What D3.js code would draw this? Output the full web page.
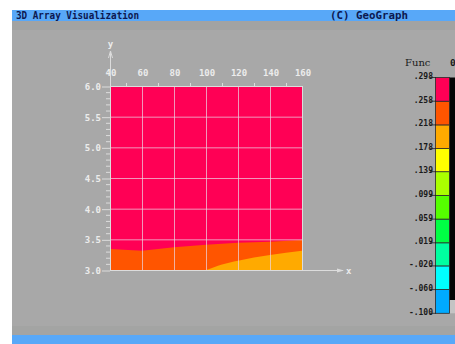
<!DOCTYPE html>
<html>
<head>
<meta charset="utf-8">
<script src="https://cdn.jsdelivr.net/npm/d3@7/dist/d3.min.js"></script>
<style>
  html, body { margin: 0; padding: 0; background: #ffffff; }
  svg { display: block; }
  text { font-family: "DejaVu Sans Mono", "Liberation Mono", monospace; font-weight: bold; }
</style>
</head>
<body>
<svg id="chart" width="455" height="344"></svg>
<script>
// Axis ticks
const xTicks = [40, 60, 80, 100, 120, 140, 160];
const yTicks = [3.0, 3.5, 4.0, 4.5, 5.0, 5.5, 6.0];

// Contour boundaries of the field Func(x, y)
// upper edge of the .218–.258 band (red region lies above it)
const bandHighX = [40, 60, 80, 100, 120, 140, 160];
const bandHighY = [3.342, 3.315, 3.37, 3.41, 3.445, 3.46, 3.49];
// upper edge of the .178–.218 band
const bandMidX = [100, 105, 110, 120, 140, 160];
const bandMidY = [3.0, 3.045, 3.09, 3.152, 3.245, 3.315];

// Colour legend levels and fills (bottom to top)
const levels = [-0.100, -0.060, -0.020, 0.019, 0.059, 0.099, 0.139, 0.178, 0.218, 0.258, 0.298];
const levelLabels = ["-.100", "-.060", "-.020", ".019", ".059", ".099", ".139", ".178", ".218", ".258", ".298"];
const bandColors = ["#00aaff", "#00ffff", "#00ffa0", "#00ff44", "#55ff00", "#aaff00", "#ffff00", "#ffaa00", "#ff5500", "#ff0055"];

const svg = d3.select("#chart");

// frame: white margin, title bar, grey canvas, bottom bar
svg.append("rect").attr("x", 12).attr("y", 10).attr("width", 443).attr("height", 334).attr("fill", "#a8a8a8");
svg.append("rect").attr("x", 12).attr("y", 21).attr("width", 443).attr("height", 9).attr("fill", "#a2a3a2");
svg.append("rect").attr("x", 12).attr("y", 326).attr("width", 443).attr("height", 9).attr("fill", "#a3a4a3");
svg.append("rect").attr("x", 12).attr("y", 10).attr("width", 443).attr("height", 11).attr("fill", "#58a8f8");
svg.append("rect").attr("x", 12).attr("y", 335).attr("width", 443).attr("height", 9).attr("fill", "#58a8f8");

svg.append("text").attr("x", 16).attr("y", 19).attr("font-size", 10).attr("fill", "#0c1850")
  .attr("textLength", 123).attr("lengthAdjust", "spacingAndGlyphs").text("3D Array Visualization");
svg.append("text").attr("x", 330).attr("y", 19).attr("font-size", 10).attr("fill", "#0c1850")
  .attr("textLength", 78).attr("lengthAdjust", "spacingAndGlyphs").text("(C) GeoGraph");

// scales
const x = d3.scaleLinear().domain([40, 160]).range([110, 302]);
const y = d3.scaleLinear().domain([3.0, 6.0]).range([270, 86]);

const plot = svg.append("g");

// filled contour bands
plot.append("rect")
  .attr("x", x(40)).attr("y", y(6.0))
  .attr("width", x(160) - x(40)).attr("height", y(3.0) - y(6.0))
  .attr("fill", bandColors[9]);

const areaHigh = d3.area()
  .x((d, i) => x(bandHighX[i])).y0(y(3.0)).y1(d => y(d));
plot.append("path").datum(bandHighY).attr("d", areaHigh).attr("fill", bandColors[8]);

const areaMid = d3.area().curve(d3.curveMonotoneX)
  .x((d, i) => x(bandMidX[i])).y0(y(3.0)).y1(d => y(d));
plot.append("path").datum(bandMidY).attr("d", areaMid).attr("fill", bandColors[7]);

// grid lines
const gridColor = "rgba(235,215,230,0.7)";
plot.selectAll(".vgrid").data(xTicks.slice(1)).join("line")
  .attr("x1", d => x(d) + 0.5).attr("x2", d => x(d) + 0.5)
  .attr("y1", y(6.0)).attr("y2", y(3.0))
  .attr("stroke", gridColor).attr("stroke-width", 1);
plot.selectAll(".hgrid").data(yTicks.slice(1)).join("line")
  .attr("x1", x(40)).attr("x2", x(160))
  .attr("y1", d => y(d) + 0.5).attr("y2", d => y(d) + 0.5)
  .attr("stroke", gridColor).attr("stroke-width", 1);

const axisColor = "#dcdcdc";
const labelColor = "#ececec";

// top axis: labels + minor ticks
const topAxis = d3.axisTop(x).tickValues(xTicks).tickSize(0).tickPadding(10)
  .tickFormat(d3.format("d"));
const gTop = svg.append("g").attr("transform", `translate(0.5,${y(6.0)})`).call(topAxis);
gTop.select(".domain").remove();
gTop.selectAll("text").attr("fill", labelColor).attr("font-size", 9);
svg.selectAll(".topMinor").data(d3.range(50, 160, 10).filter(v => v % 20 !== 0)).join("line")
  .attr("x1", d => x(d) + 0.5).attr("x2", d => x(d) + 0.5)
  .attr("y1", y(6.0) - 3).attr("y2", y(6.0))
  .attr("stroke", axisColor);

// left axis: labels, major and minor ticks
const leftAxis = d3.axisLeft(y).tickValues(yTicks).tickSize(8).tickPadding(1)
  .tickFormat(d3.format(".1f"));
const gLeft = svg.append("g").attr("transform", `translate(${x(40)},0.5)`).call(leftAxis);
gLeft.select(".domain").remove();
gLeft.selectAll("line").attr("stroke", axisColor);
gLeft.selectAll("text").attr("fill", labelColor).attr("font-size", 9);
svg.selectAll(".leftMinor").data(d3.range(3.1, 6.0, 0.1).filter(v => Math.abs(v * 2 - Math.round(v * 2)) > 0.01)).join("line")
  .attr("x1", x(40) - 4).attr("x2", x(40))
  .attr("y1", d => y(d) + 0.5).attr("y2", d => y(d) + 0.5)
  .attr("stroke", axisColor);

// plot frame, axis lines and arrows
svg.append("line").attr("x1", x(40)).attr("x2", x(160)).attr("y1", y(6.0) + 0.5).attr("y2", y(6.0) + 0.5)
  .attr("stroke", axisColor);
svg.append("line").attr("x1", x(160) + 0.5).attr("x2", x(160) + 0.5).attr("y1", y(6.0)).attr("y2", y(3.0))
  .attr("stroke", axisColor);
svg.append("line").attr("x1", x(40) + 0.5).attr("x2", x(40) + 0.5).attr("y1", 52).attr("y2", y(3.0))
  .attr("stroke", axisColor);
svg.append("line").attr("x1", x(40)).attr("x2", 343).attr("y1", y(3.0) + 0.5).attr("y2", y(3.0) + 0.5)
  .attr("stroke", axisColor);
svg.append("path").attr("d", `M${x(40) + 0.5},51 L${x(40) - 1.5},58 M${x(40) + 0.5},51 L${x(40) + 2.5},58`)
  .attr("stroke", axisColor).attr("fill", "none");
svg.append("path").attr("d", `M344,${y(3.0) + 0.5} L337,${y(3.0) - 1.5} L337,${y(3.0) + 2.5} Z`)
  .attr("fill", axisColor);
svg.append("text").attr("x", x(40) + 0.5).attr("y", 47).attr("text-anchor", "middle")
  .attr("font-size", 9).attr("fill", labelColor).text("y");
svg.append("text").attr("x", 346).attr("y", y(3.0) + 3.5)
  .attr("font-size", 9).attr("fill", labelColor).text("x");

// colour legend
const c = d3.scaleLinear().domain([-0.100, 0.298]).range([313.3, 77.5]);
const legend = svg.append("g");
legend.append("rect").attr("x", 449).attr("y", c(0.298)).attr("width", 6).attr("height", 300 - c(0.298))
  .attr("fill", "#050505");
legend.append("rect").attr("x", 449).attr("y", 300).attr("width", 6).attr("height", c(-0.100) - 300)
  .attr("fill", "#c4c4c4");
legend.selectAll(".band").data(bandColors).join("rect")
  .attr("x", 435.5).attr("width", 14)
  .attr("y", (d, i) => c(levels[i + 1]))
  .attr("height", (d, i) => c(levels[i]) - c(levels[i + 1]))
  .attr("fill", d => d)
  .attr("stroke", "#2a2a2a").attr("stroke-width", 0.8);
legend.selectAll(".ltick").data(levels).join("line")
  .attr("x1", 430).attr("x2", 436)
  .attr("y1", d => c(d)).attr("y2", d => c(d))
  .attr("stroke", "#202020").attr("stroke-width", 0.8);
legend.selectAll(".llabel").data(levels).join("text")
  .attr("x", 433).attr("y", d => c(d) + 1.5)
  .attr("text-anchor", "end").attr("font-size", 8).attr("fill", "#1a1a1a")
  .text((d, i) => levelLabels[i]);
legend.append("text").attr("x", 405).attr("y", 66)
  .style("font-family", "'DejaVu Serif', 'Liberation Serif', serif").style("font-weight", "normal")
  .attr("font-size", 10).attr("fill", "#1a1a1a").text("Func");
legend.append("text").attr("x", 450).attr("y", 66)
  .attr("font-size", 9.5).attr("fill", "#1a1a1a").text("0");
</script>
</body>
</html>
